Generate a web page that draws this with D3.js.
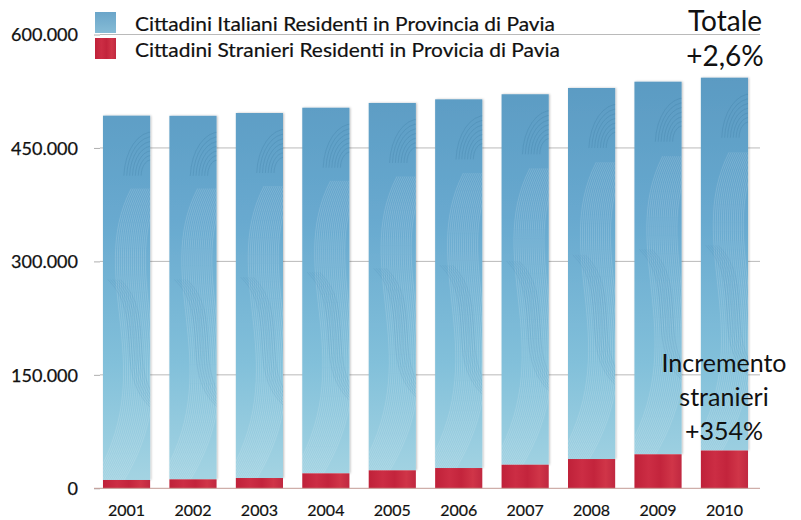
<!DOCTYPE html>
<html>
<head>
<meta charset="utf-8">
<script src="https://cdn.jsdelivr.net/npm/d3@7"></script>
<style>
  html, body { margin: 0; padding: 0; background: #ffffff; }
  svg { display: block; font-family: "Lato", "Open Sans", sans-serif; }
</style>
</head>
<body>
<svg id="chart" width="801" height="520"></svg>
<script>
// Residenti in Provincia di Pavia, 2001-2010
const years = ["2001", "2002", "2003", "2004", "2005", "2006", "2007", "2008", "2009", "2010"];
const italiani  = [481700, 480600, 482600, 483400, 485700, 487500, 489800, 490600, 492600, 492900];
const stranieri = [11000, 11900, 13600, 19800, 23800, 26800, 31200, 38700, 45000, 50000];
const yTicks = [0, 150000, 300000, 450000, 600000];
const seriesNames = [
  "Cittadini Italiani Residenti in Provincia di Pavia",
  "Cittadini Stranieri Residenti in Provicia di Pavia"
];
const noteTotale = ["Totale", "+2,6%"];
const noteStranieri = ["Incremento", "stranieri", "+354%"];

const svg = d3.select("#chart");
const defs = svg.append("defs");

const x = d3.scaleBand().domain(years).range([93, 758]).paddingInner(0.29).paddingOuter(0.15);
const y = d3.scaleLinear().domain([0, 600000]).range([488.3, 34.5]);

// fills
const blueGrad = defs.append("linearGradient").attr("id", "blueFill")
  .attr("gradientUnits", "userSpaceOnUse").attr("x1", 0).attr("x2", 0)
  .attr("y1", y(550000)).attr("y2", y(0));
[[0, "#5a9ac2"], [0.35, "#68a9cf"], [0.7, "#82c0da"], [1, "#a6d5e3"]]
  .forEach(([o, c]) => blueGrad.append("stop").attr("offset", o).attr("stop-color", c));

const redGrad = defs.append("linearGradient").attr("id", "redFill")
  .attr("x1", 0).attr("x2", 1).attr("y1", 0).attr("y2", 0);
[[0, "#bf2139"], [0.3, "#cc2d44"], [0.55, "#c3243c"], [0.8, "#d03548"], [1, "#c02840"]]
  .forEach(([o, c]) => redGrad.append("stop").attr("offset", o).attr("stop-color", c));

const swatchBlue = defs.append("linearGradient").attr("id", "swatchBlue")
  .attr("x1", 0).attr("x2", 0).attr("y1", 0).attr("y2", 1);
[[0, "#6aa5c9"], [1, "#86bcd6"]]
  .forEach(([o, c]) => swatchBlue.append("stop").attr("offset", o).attr("stop-color", c));

const shadow = defs.append("filter").attr("id", "barShadow")
  .attr("x", "-10%").attr("y", "-5%").attr("width", "125%").attr("height", "110%");
shadow.append("feDropShadow").attr("dx", 1).attr("dy", 0).attr("stdDeviation", 1.2)
  .attr("flood-color", "#000").attr("flood-opacity", 0.25);

// grid
const gridG = svg.append("g");
gridG.selectAll("line.grid").data(yTicks.filter(d => d > 0)).join("line")
  .attr("x1", 100).attr("x2", 760)
  .attr("y1", d => y(d)).attr("y2", d => y(d))
  .attr("stroke", "#a8a8a8").attr("stroke-width", 0.8);

// y axis
const yAxis = d3.axisLeft(y).tickValues(yTicks).tickSize(6).tickPadding(16)
  .tickFormat(d => d === 0 ? "0" : d3.format(",")(d).replace(/,/g, "."));
const yG = svg.append("g").attr("transform", "translate(100,0)").call(yAxis);
yG.select(".domain").remove();
yG.selectAll(".tick line").attr("stroke", "#9a9a9a").attr("stroke-width", 0.8);
yG.selectAll(".tick text").attr("font-size", 18).attr("fill", "#111")
  .attr("stroke", "#111").attr("stroke-width", 0.25)
  .attr("font-family", "Lato, sans-serif").attr("dy", "0.36em").attr("x", -22);

// bars
const rows = years.map((yr, i) => ({ year: yr, it: italiani[i], st: stranieri[i] }));
const barsG = svg.append("g");
const bar = barsG.selectAll("g.bar").data(rows).join("g").attr("class", "bar");

bar.append("rect")
  .attr("x", d => x(d.year)).attr("width", x.bandwidth())
  .attr("y", d => y(d.st + d.it)).attr("height", d => y(d.st) - y(d.st + d.it))
  .attr("fill", "url(#blueFill)").attr("filter", "url(#barShadow)");

bar.append("rect")
  .attr("x", d => x(d.year)).attr("width", x.bandwidth())
  .attr("y", d => y(d.st)).attr("height", d => y(0) - y(d.st))
  .attr("fill", "url(#redFill)");

// swirl texture inside each blue segment
bar.each(function (d, i) {
  const g = d3.select(this);
  const bx = x(d.year), bw = x.bandwidth();
  const top = y(d.st + d.it), bot = y(d.st);
  const h = bot - top;
  const cid = "clip" + i;
  defs.append("clipPath").attr("id", cid).append("rect")
    .attr("x", bx).attr("y", top).attr("width", bw).attr("height", h);
  const tex = g.append("g").attr("clip-path", `url(#${cid})`).attr("fill", "none");
  // light flowing strands
  for (let k = 0; k < 16; k++) {
    const o = k * 2.0;
    tex.append("path")
      .attr("d", `M${bx - 12 + o},${bot + 5} C${bx + bw * 1.3 + o},${bot - h * 0.3} ${bx - bw * 0.4 + o},${bot - h * 0.55} ${bx + bw * 0.6 + o},${top + h * 0.2}`)
      .attr("stroke", "#ffffff").attr("stroke-opacity", 0.22).attr("stroke-width", 0.7);
  }
  // darker arcs in the upper right
  for (let k = 0; k < 7; k++) {
    const r = 10 + k * 3.2;
    tex.append("path")
      .attr("d", `M${bx + bw - r * 0.9},${top + 60} A${r},${r * 1.6} 0 0 1 ${bx + bw + 4},${top + 60 - r * 1.5}`)
      .attr("stroke", "#2f6f95").attr("stroke-opacity", 0.3).attr("stroke-width", 0.7);
  }
  for (let k = 0; k < 6; k++) {
    const o = k * 2.5;
    tex.append("path")
      .attr("d", `M${bx + 5 + o},${top + h * 0.45} C${bx + bw * 0.9 + o},${top + h * 0.55} ${bx + bw * 0.2 + o},${top + h * 0.7} ${bx + bw + o},${top + h * 0.8}`)
      .attr("stroke", "#3f7fa6").attr("stroke-opacity", 0.2).attr("stroke-width", 0.7);
  }
});

// baseline
svg.append("line").attr("x1", 94).attr("x2", 760).attr("y1", y(0)).attr("y2", y(0))
  .attr("stroke", "#c39a94").attr("stroke-width", 1);

// x axis labels
const xAxis = d3.axisBottom(x).tickSize(0).tickPadding(16);
const xG = svg.append("g").attr("transform", `translate(0,${y(0)})`).call(xAxis);
xG.select(".domain").remove();
xG.selectAll(".tick text").attr("font-size", 16).attr("fill", "#111")
  .attr("stroke", "#111").attr("stroke-width", 0.2)
  .attr("font-family", "Lato, sans-serif");

// legend
const legend = svg.append("g");
const swatchFills = ["url(#swatchBlue)", "url(#redFill)"];
seriesNames.forEach((name, i) => {
  const ly = 12 + i * 26;
  legend.append("rect").attr("x", 95).attr("y", ly).attr("width", 21).attr("height", 21)
    .attr("fill", swatchFills[i]);
  legend.append("text").attr("x", 135).attr("y", ly + 19)
    .attr("font-size", 20).attr("fill", "#111")
    .attr("stroke", "#111").attr("stroke-width", 0.2)
    .attr("textLength", i === 0 ? 420 : 425).attr("lengthAdjust", "spacingAndGlyphs")
    .text(name);
});

// notes
const notes = svg.append("g").attr("text-anchor", "middle").attr("fill", "#111");
noteTotale.forEach((t, i) => {
  notes.append("text").attr("x", 725).attr("y", 31 + i * 35)
    .attr("font-size", 28).text(t);
});
noteStranieri.forEach((t, i) => {
  notes.append("text").attr("x", 724).attr("y", 372 + i * 34)
    .attr("font-size", 25).text(t);
});
</script>
</body>
</html>
